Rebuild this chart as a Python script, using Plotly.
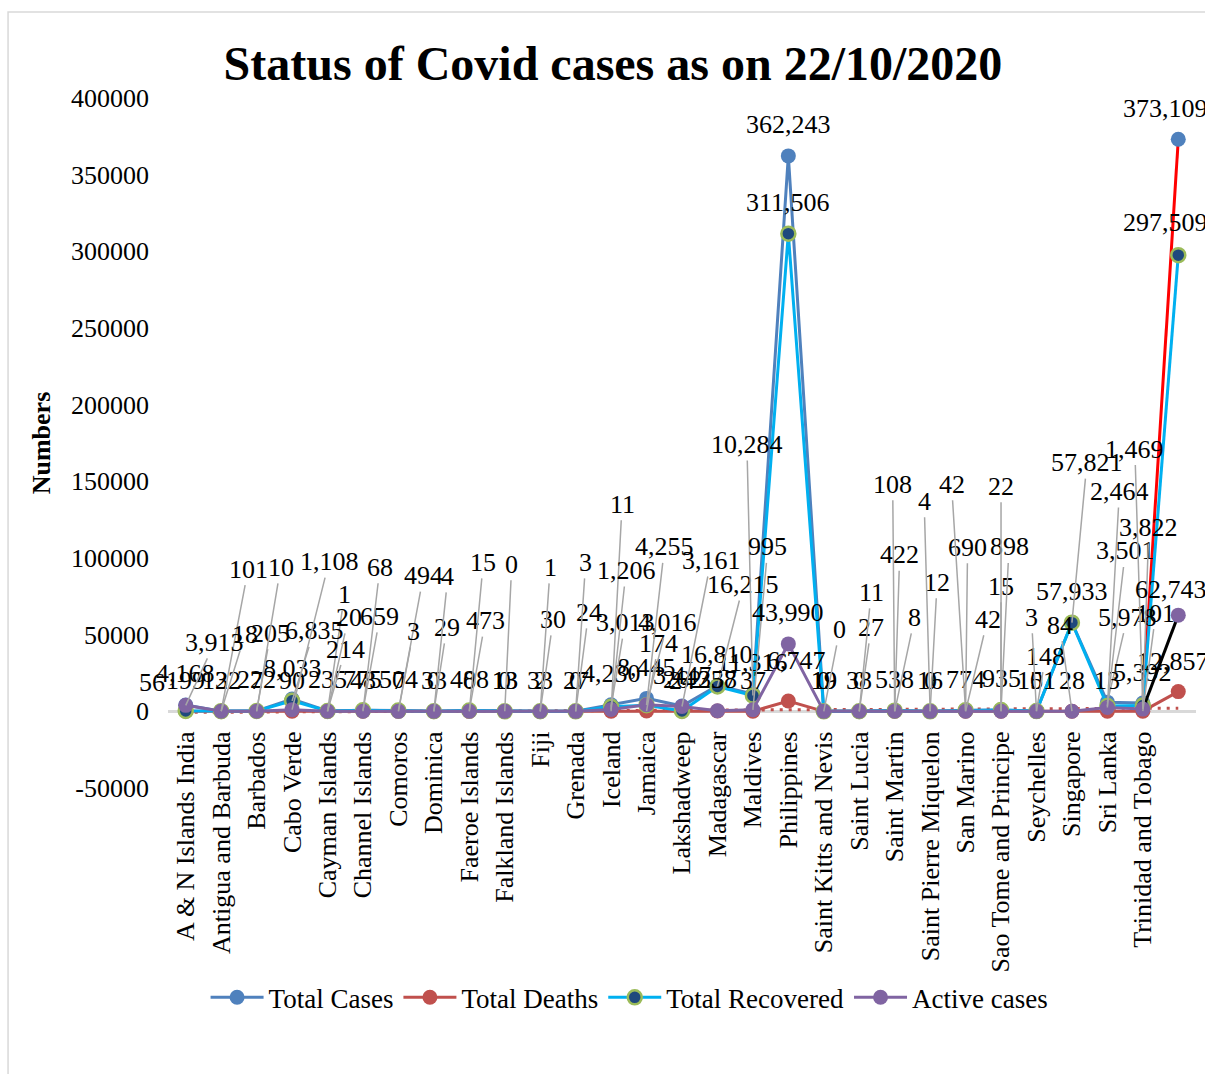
import numpy as np
import plotly.graph_objects as go

# ---- data -----------------------------------------------------------------
countries = [
    "A & N Islands India", "Antigua and Barbuda", "Barbados", "Cabo Verde",
    "Cayman Islands", "Channel Islands", "Comoros", "Dominica",
    "Faeroe Islands", "Falkland Islands", "Fiji", "Grenada", "Iceland",
    "Jamaica", "Lakshadweep", "Madagascar", "Maldives", "Philippines",
    "Saint Kitts and Nevis", "Saint Lucia", "Saint Martin",
    "Saint Pierre Miquelon", "San Marino", "Sao Tome and Principe",
    "Seychelles", "Singapore", "Sri Lanka", "Trinidad and Tobago", "",
]
total_cases = [4168, 122, 222, 8033, 235, 775, 504, 33, 488, 13, 33, 27, 4230,
               8445, 3447, 16810, 11316, 362243, 19, 38, 538, 16, 774, 935,
               151, 57933, 5978, 5392, 373109]
total_deaths = [56, 3, 7, 90, 1, 48, 7, 0, 0, 0, 2, 0, 11, 174, 24, 238, 37,
                6747, 0, 0, 8, 0, 42, 15, 0, 28, 13, 101, 12857]
total_recovered = [199, 101, 205, 6835, 214, 659, 494, 29, 473, 13, 30, 24,
                   3013, 4016, 262, 16215, 10284, 311506, 19, 27, 422, 12, 690,
                   898, 148, 57821, 3501, 3822, 297509]
active_cases = [3913, 18, 10, 1108, 20, 68, 3, 4, 15, 0, 1, 3, 1206, 4255, 3161,
                357, 995, 43990, 0, 11, 108, 4, 42, 22, 3, 84, 2464, 1469, 62743]
y_ticks = list(range(-50000, 400001, 50000))

x = list(range(len(countries)))
last = len(countries) - 1

FONT = "Liberation Serif, Times New Roman, serif"

# ---- label placement (pixel offsets from the point) -------------------------
DEFAULT_SHIFT = (0, -31)
leader = {   # labels pulled away from their point, joined by a leader line
    "Total Cases": {26: (20, -85)},
    "Total Deaths": {4: (17, -117), 12: (11, -207), 13: (12, -68),
                     20: (20, -94), 22: (22, -92), 23: (0, -125),
                     27: (13, -98)},
    "Total Recovered": {1: (27, -142), 2: (14, -78), 3: (22, -70),
                        4: (18, -62), 5: (17, -94), 6: (25, -135),
                        7: (13, -84), 8: (16, -90), 10: (13, -92),
                        11: (13, -99), 12: (14, -84), 13: (21, -83),
                        15: (26, -102), 16: (-6, -251), 19: (12, -84),
                        20: (5, -156), 21: (7, -129), 22: (2, -163),
                        23: (8, -163), 24: (9, -55), 25: (15, -160),
                        26: (18, -155), 27: (6, -178)},
    "Active cases": {0: (29, -63), 1: (24, -77), 2: (24, -144),
                     3: (37, -148), 4: (21, -94), 5: (17, -144),
                     6: (15, -80), 7: (14, -135), 8: (14, -149),
                     9: (7, -147), 10: (10, -144), 11: (10, -149),
                     12: (15, -139), 13: (18, -158), 14: (29, -146),
                     16: (15, -163), 18: (16, -82), 19: (12, -119),
                     20: (-2, -227), 21: (-6, -210), 22: (-14, -227),
                     23: (0, -225), 24: (-5, -94), 25: (-12, -86),
                     26: (12, -216), 27: (-8, -260)},
}
nudge = {    # labels kept near their point, slightly shifted
    "Total Cases": {28: (-13, -31)},
    "Total Deaths": {0: (-34, -29), 17: (8, -40), 28: (-5, -30)},
    "Total Recovered": {28: (-13, -33)},
    "Active cases": {28: (-7, -26)},
}

series = [
    dict(name="Total Cases", y=total_cases,
         line=dict(color="#4F81BD", width=3),
         marker=dict(color="#4F81BD", size=15),
         tail="#FF0000"),
    dict(name="Total Deaths", y=total_deaths,
         line=dict(color="#C0504D", width=3),
         marker=dict(color="#C0504D", size=15),
         tail="#C0504D"),
    dict(name="Total Recovered", y=total_recovered,
         line=dict(color="#00B0F0", width=3),
         marker=dict(color="#1F497D", size=14,
                     line=dict(color="#9BBB59", width=2.5)),
         tail="#00B0F0"),
    dict(name="Active cases", y=active_cases,
         line=dict(color="#8064A2", width=3),
         marker=dict(color="#8064A2", size=15),
         tail="#000000"),
]

fig = go.Figure()

# linear trend of deaths (dotted)
coef = np.polyfit(x, total_deaths, 1)
trend = np.polyval(coef, x)
fig.add_trace(go.Scatter(x=x, y=trend, mode="lines", showlegend=False,
                         line=dict(color="#C0504D", width=3, dash="3px,6px"),
                         hoverinfo="skip"))

annotations = []
for s in series:
    ys = s["y"]
    # final segment drawn in its own colour
    fig.add_trace(go.Scatter(x=x[last - 1:], y=ys[last - 1:], mode="lines",
                             showlegend=False,
                             line=dict(color=s["tail"], width=3)))
    fig.add_trace(go.Scatter(x=x[:last], y=ys[:last], mode="lines+markers",
                             name=s["name"], line=s["line"],
                             marker=s["marker"]))
    fig.add_trace(go.Scatter(x=x[last:], y=ys[last:], mode="markers",
                             showlegend=False, marker=s["marker"]))

    for i, v in enumerate(ys):
        text = f"{v:,}"
        if i in leader[s["name"]]:
            ax, ay = leader[s["name"]][i]
            annotations.append(dict(
                x=i, y=v, xref="x", yref="y", text=text, showarrow=True,
                arrowhead=0, arrowwidth=1.5, arrowcolor="#A6A6A6",
                ax=ax, ay=ay, font=dict(family=FONT, size=26, color="black")))
        else:
            dx, dy = nudge[s["name"]].get(i, DEFAULT_SHIFT)
            annotations.append(dict(
                x=i, y=v, xref="x", yref="y", text=text, showarrow=False,
                xshift=dx, yshift=-dy, yanchor="middle",
                font=dict(family=FONT, size=26, color="black")))

# chart area border
fig.add_shape(type="rect", xref="paper", yref="paper",
              x0=-0.1556, x1=1.2, y0=-0.6, y1=1.1246,
              line=dict(color="#D9D9D9", width=1.5), fillcolor="rgba(0,0,0,0)",
              layer="below")

fig.update_layout(
    width=1205, height=1074,
    margin=dict(l=168, r=9, t=98, b=286),
    paper_bgcolor="white", plot_bgcolor="white",
    font=dict(family=FONT, size=26, color="black"),
    title=dict(text="<b>Status of Covid cases as on 22/10/2020</b>",
               x=0.5087, xref="container", xanchor="center",
               y=1 - 63 / 1074, yref="container", yanchor="middle",
               font=dict(family=FONT, size=48, color="black")),
    xaxis=dict(range=[-0.5, last + 0.5], tickmode="array",
               tickvals=x[:last], ticktext=countries[:last], tickangle=-90,
               anchor="free", position=50000 / 450000,
               showgrid=False, zeroline=False, showline=False, ticks="",
               ticklabelstandoff=14,
               tickfont=dict(family=FONT, size=26, color="black")),
    yaxis=dict(range=[-50000, 400000], tickmode="array", tickvals=y_ticks,
               ticktext=[str(t) for t in y_ticks], showgrid=False,
               zeroline=True, zerolinecolor="#D9D9D9", zerolinewidth=2.5,
               showline=False, ticks="", ticklabelstandoff=18,
               title=dict(text="<b>Numbers</b>", standoff=12,
                          font=dict(family=FONT, size=26, color="black")),
               tickfont=dict(family=FONT, size=26, color="black")),
    legend=dict(orientation="h", x=0.449, xanchor="center", y=-0.304,
                yanchor="middle", font=dict(family=FONT, size=27),
                itemwidth=53, tracegroupgap=0,
                bgcolor="rgba(0,0,0,0)"),
    annotations=annotations,
    showlegend=True,
)

fig.write_html("out.html")
